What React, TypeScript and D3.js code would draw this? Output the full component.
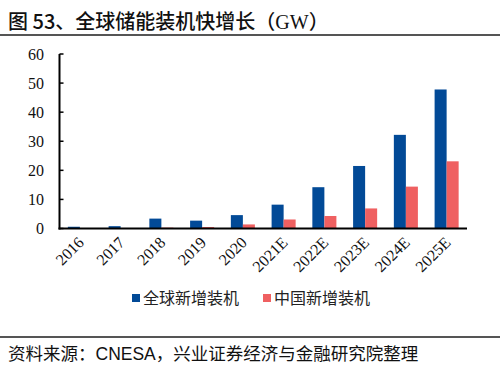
import React from "react";
import * as d3 from "d3";

const categories = ["2016", "2017", "2018", "2019", "2020", "2021E", "2022E", "2023E", "2024E", "2025E"];
const globalAdded = [0.6, 0.8, 3.4, 2.7, 4.6, 8.2, 14.2, 21.5, 32.2, 47.8];
const chinaAdded = [0.1, 0.1, 0.3, 0.5, 1.4, 3.1, 4.3, 6.9, 14.4, 23.1];
const seriesNames = ["全球新增装机", "中国新增装机"];
const seriesColors = ["#024A97", "#EF6061"];
const yTicks = [0, 10, 20, 30, 40, 50, 60];

const W = 500;
const H = 378;
const left = 59.5;
const right = 467;
const top = 54;
const bottom = 228.5;

export default function App() {
  const x = d3.scaleBand<string>().domain(categories).range([left, right]).paddingInner(0.41).paddingOuter(0.205);
  const xs = d3.scaleBand<string>().domain(seriesNames).range([0, x.bandwidth()]);
  const y = d3.scaleLinear().domain([0, 60]).range([bottom, top]);
  const series = [globalAdded, chinaAdded];
  const serif = "'Liberation Serif', 'Times New Roman', serif";
  const cjk = "'Noto Sans CJK SC', sans-serif";

  return (
    <svg width={W} height={H} style={{ position: "absolute", left: 0, top: 0, background: "#fff" }}>
      <rect x={0} y={0} width={W} height={H} fill="#fff" />
      <text x={8} y={29} fontFamily={cjk} fontSize={20} fontWeight={500} fill="#111">
        图 53、全球储能装机快增长（<tspan fontFamily={serif}>GW</tspan>）
      </text>
      <line x1={0} x2={W} y1={35} y2={35} stroke="#555" strokeWidth={2} />

      {series.map((vals, si) =>
        vals.map((v, i) => (
          <rect
            key={`${si}-${i}`}
            x={(x(categories[i]) as number) + (xs(seriesNames[si]) as number)}
            y={y(v)}
            width={xs.bandwidth()}
            height={bottom - y(v)}
            fill={seriesColors[si]}
          />
        ))
      )}

      {yTicks.map((t) => (
        <g key={t}>
          <line x1={left} x2={left + 4} y1={y(t)} y2={y(t)} stroke="#000" strokeWidth={1.5} />
          <text x={44} y={y(t)} dy="0.35em" textAnchor="end" fontFamily={serif} fontSize={16} fill="#111">
            {t}
          </text>
        </g>
      ))}
      <line x1={left} x2={left} y1={top} y2={bottom + 1} stroke="#000" strokeWidth={2} />
      <line x1={left - 1} x2={right} y1={bottom} y2={bottom} stroke="#000" strokeWidth={2} />

      {categories.map((c) => {
        const cx = (x(c) as number) + x.bandwidth() / 2 + 5;
        const cy = bottom + 15;
        return (
          <text
            key={c}
            x={cx}
            y={cy}
            textAnchor="end"
            transform={`rotate(-45, ${cx}, ${cy})`}
            fontFamily={serif}
            fontSize={16}
            fill="#111"
          >
            {c}
          </text>
        );
      })}

      {seriesNames.map((n, i) => {
        const lx = i === 0 ? 132 : 263;
        return (
          <g key={n}>
            <rect x={lx} y={294} width={8} height={8} fill={seriesColors[i]} />
            <text x={lx + 11} y={298} dy="0.36em" fontFamily={cjk} fontSize={16} fill="#222">
              {n}
            </text>
          </g>
        );
      })}

      <line x1={0} x2={W} y1={337} y2={337} stroke="#555" strokeWidth={2} />
      <text x={8} y={360} fontFamily={cjk} fontSize={17.5} fill="#111">
        资料来源：<tspan fontFamily="'Liberation Sans', Arial, sans-serif">CNESA</tspan>，兴业证券经济与金融研究院整理
      </text>
    </svg>
  );
}
